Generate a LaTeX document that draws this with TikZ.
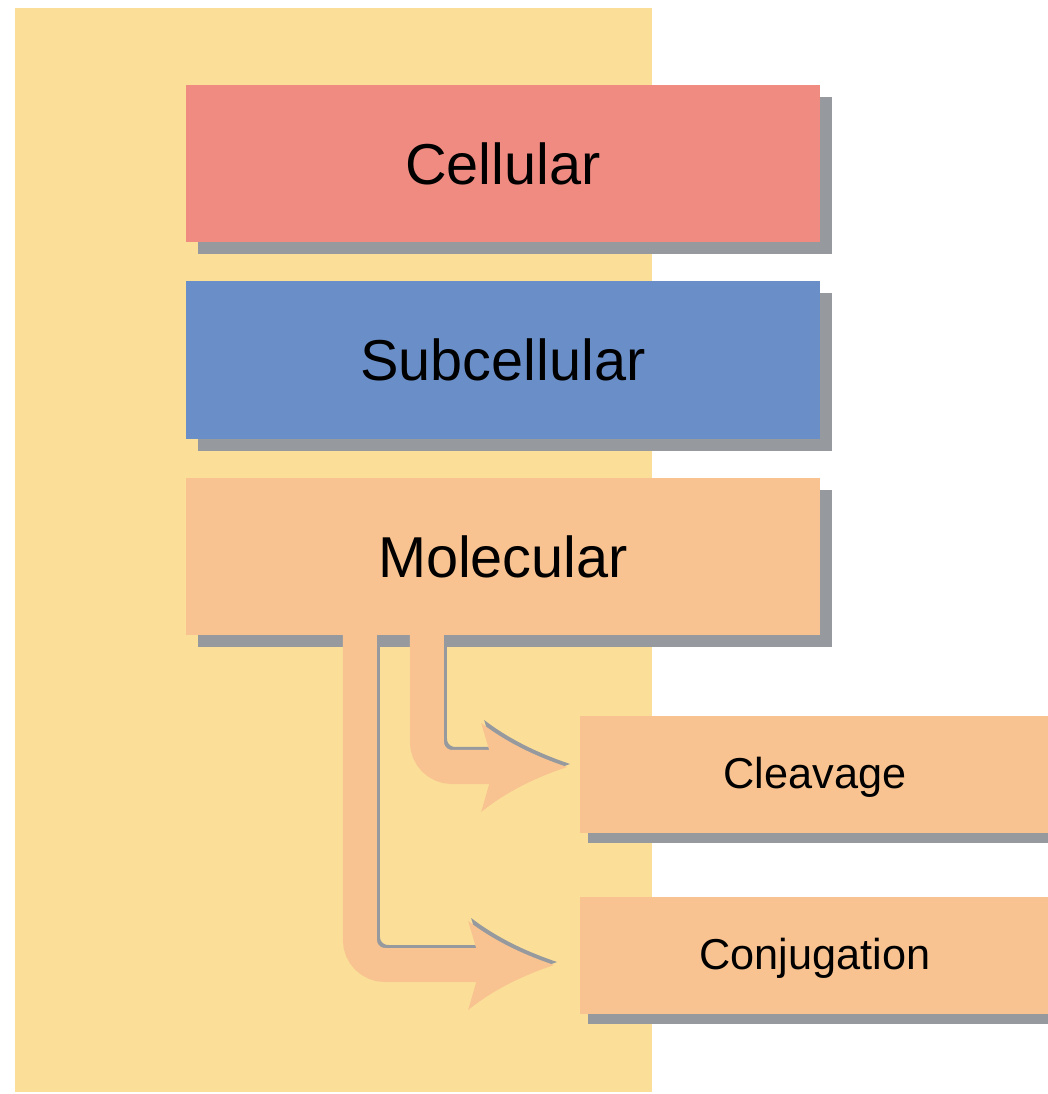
\documentclass[tikz,border=0pt]{standalone}
\usepackage{fontspec}
\setmainfont{Liberation Sans}
\usetikzlibrary{shadows}

\definecolor{bgyellow}{HTML}{FBDF98}
\definecolor{cellred}{HTML}{F08B82}
\definecolor{subblue}{HTML}{6A8FC8}
\definecolor{molpeach}{HTML}{F8C391}
\definecolor{shadegray}{HTML}{969A9E}

\tikzset{
    level/.style={minimum width=6.34cm, minimum height=1.57cm, inner sep=0pt,
        font=\fontsize{16.4}{20}\selectfont,
        drop shadow={shadow xshift=0.12cm, shadow yshift=-0.12cm, fill=shadegray, opacity=1}},
    sublevel/.style={fill=molpeach, minimum width=4.7cm, minimum height=1.17cm, inner sep=0pt,
        font=\fontsize{12.3}{15}\selectfont, text depth=0.2ex,
        drop shadow={shadow xshift=0.08cm, shadow yshift=-0.1cm, fill=shadegray, opacity=1}},
    band/.style={line width=0.34cm, rounded corners=0.25cm},
    head/.pic={\fill (0,0) .. controls (-30,-10) and (-60,-24) .. (-86,-44) -- (-73,0)
        -- (-86,45) .. controls (-60,24) and (-30,10) .. (0,0);}
}

\begin{document}
\begin{tikzpicture}[x=0.01cm, y=-0.01cm]
    \useasboundingbox (0,0) rectangle (1047,1094);
    \fill[bgyellow] (15,8) rectangle (652,1092);

    \node[level, fill=cellred] (cell) at (503,163.5) {Cellular};
    \node[level, fill=subblue] (sub) at (503,360) {Subcellular};
    \node[level, fill=molpeach] (mol) at (503,556.5) {Molecular};
    \node[sublevel] (clv) at (815,774.5) {Cleavage};
    \node[sublevel] (conj) at (815,955.5) {Conjugation};

    \coordinate (t1) at ([xshift=-0.12cm, yshift=0.075cm]clv.west);
    \coordinate (t2) at ([xshift=-0.25cm, yshift=-0.095cm]conj.west);

    % thin gray edge along the inner side of both arrows
    \draw[band, shadegray, transform canvas={xshift=0.03cm, yshift=0.03cm}]
        ([xshift=-0.76cm, yshift=-0.12cm]mol.south) |- ([xshift=-0.62cm]t1);
    \draw[band, shadegray, transform canvas={xshift=0.03cm, yshift=0.03cm}]
        ([xshift=-1.43cm, yshift=-0.12cm]mol.south) |- ([xshift=-0.62cm]t2);
    \pic[fill=shadegray] at ([xshift=0.03cm, yshift=0.03cm]t1) {head};
    \pic[fill=shadegray] at ([xshift=0.03cm, yshift=0.03cm]t2) {head};

    % the arrows
    \draw[band, molpeach] ([xshift=-0.76cm, yshift=0.03cm]mol.south) |- ([xshift=-0.62cm]t1);
    \draw[band, molpeach] ([xshift=-1.43cm, yshift=0.03cm]mol.south) |- ([xshift=-0.62cm]t2);
    \pic[fill=molpeach] at (t1) {head};
    \pic[fill=molpeach] at (t2) {head};
\end{tikzpicture}
\end{document}
